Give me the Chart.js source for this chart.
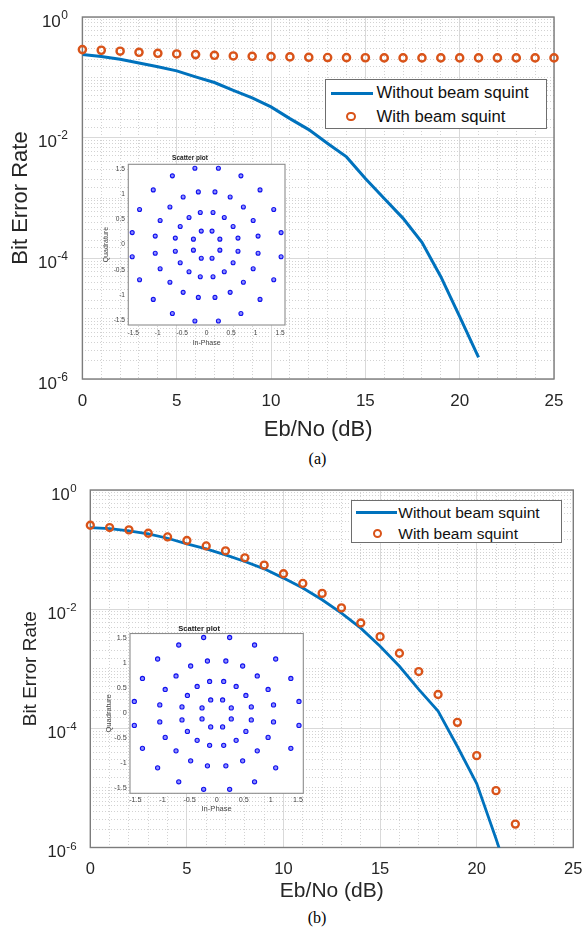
<!DOCTYPE html>
<html>
<head>
<meta charset="utf-8">
<script src="https://cdn.jsdelivr.net/npm/chart.js@4.4.1/dist/chart.umd.min.js"></script>
<style>
  html, body { margin: 0; padding: 0; background: #fff; }
  #page { position: relative; width: 585px; height: 930px; overflow: hidden; font-family: 'Liberation Sans', Arial, sans-serif; }
  canvas { position: absolute; }
  .legend-box { position: absolute; background: #fff; border: 1px solid #6e6e6e; box-sizing: border-box; }
  .legend-el { position: absolute; box-sizing: border-box; }
  .legend-text { position: absolute; white-space: nowrap; color: #111; }
  .caption { position: absolute; font-family: 'Liberation Serif', 'Times New Roman', serif; font-size: 16px; color: #000; transform: translate(-50%, -50%); }
</style>
</head>
<body>
<div id="page">
  <canvas id="berA" width="585" height="445" style="left:0;top:0"></canvas>
  <canvas id="insetA" width="200" height="205" style="left:95px;top:148px"></canvas>
  <div class="caption" style="left:317.5px;top:459px">(a)</div>
  <canvas id="berB" width="585" height="445" style="left:0;top:462px"></canvas>
  <canvas id="insetB" width="220" height="197" style="left:95px;top:619px"></canvas>
  <div class="caption" style="left:317px;top:918px">(b)</div>
</div>
<script>
// Eb/No axis (dB)
const ebno = [0, 1, 2, 3, 4, 5, 6, 7, 8, 9, 10, 11, 12, 13, 14, 15, 16, 17, 18, 19, 20, 21, 22, 23, 24, 25];

// (a) BER curves
const berA_noSquint = [0.238, 0.222, 0.2, 0.173, 0.15, 0.128, 0.102, 0.082, 0.061, 0.0456, 0.0324,
  0.0207, 0.0136, 0.008, 0.0048, 0.0021, 0.00098, 0.00046, 0.000184, 0.0000496, 0.0000108, 0.00000229];
const berA_squint = [0.288, 0.281, 0.271, 0.26, 0.25, 0.244, 0.238, 0.232, 0.226, 0.223, 0.22, 0.218, 0.215,
  0.213, 0.212, 0.211, 0.21, 0.21, 0.21, 0.21, 0.21, 0.21, 0.21, 0.21, 0.21, 0.21];

// (b) BER curves
const berB_noSquint = [0.234, 0.225, 0.206, 0.183, 0.155, 0.125, 0.103, 0.0815, 0.063, 0.0475, 0.0332,
  0.0226, 0.0144, 0.0086, 0.0048, 0.00238, 0.0011, 0.00045, 0.000195, 0.0000495, 0.0000118, 0.0000014, 0.00000015];
const berB_squint = [0.256, 0.234, 0.214, 0.188, 0.163, 0.142, 0.115, 0.0953, 0.0727, 0.0548, 0.0393,
  0.027, 0.0184, 0.0105, 0.00586, 0.00346, 0.00182, 0.000898, 0.00037, 0.000126, 0.0000348, 0.000009, 0.00000247];

const seriesLabels = ['Without beam squint', 'With beam squint'];
const xTickValues = [0, 5, 10, 15, 20, 25];
const yTickValues = [1, 1e-2, 1e-4, 1e-6];
const yTickBase = '10';
const yTickExponents = ['0', '-2', '-4', '-6'];

// constellation shown in the insets (in-phase / quadrature)
const constI = [
  0.27, 0.11, -0.11, -0.27, -0.27, -0.11, 0.11, 0.27,
  0.64, 0.54, 0.36, 0.13, -0.13, -0.36, -0.54, -0.64, -0.64, -0.54, -0.36, -0.13, 0.13, 0.36, 0.54, 0.64,
  1.05, 0.95, 0.75, 0.48, 0.17, -0.17, -0.48, -0.75, -0.95, -1.05, -1.05, -0.95, -0.75, -0.48, -0.17, 0.17, 0.48, 0.75, 0.95, 1.05,
  1.52, 1.37, 1.09, 0.70, 0.24, -0.24, -0.70, -1.09, -1.37, -1.52, -1.52, -1.37, -1.09, -0.70, -0.24, 0.24, 0.70, 1.09, 1.37, 1.52
];
const constQ = [
  0.11, 0.27, 0.27, 0.11, -0.11, -0.27, -0.27, -0.11,
  0.13, 0.36, 0.54, 0.64, 0.64, 0.54, 0.36, 0.13, -0.13, -0.36, -0.54, -0.64, -0.64, -0.54, -0.36, -0.13,
  0.17, 0.48, 0.75, 0.95, 1.05, 1.05, 0.95, 0.75, 0.48, 0.17, -0.17, -0.48, -0.75, -0.95, -1.05, -1.05, -0.95, -0.75, -0.48, -0.17,
  0.24, 0.70, 1.09, 1.37, 1.52, 1.52, 1.37, 1.09, 0.70, 0.24, -0.24, -0.70, -1.09, -1.37, -1.52, -1.52, -1.37, -1.09, -0.70, -0.24
];
const insetTickValues = [-1.5, -1, -0.5, 0, 0.5, 1, 1.5];
const insetTickLabels = ['-1.5', '-1', '-0.5', '0', '0.5', '1', '1.5'];

const BLUE = '#0072BD';
const ORANGE = '#D95319';
const TXT = '#262626';
const MAJOR = '#d9d9d9';
const MINOR = '#d2d2d2';
const FONT = "'Liberation Sans', Arial, sans-serif";

Chart.defaults.font.family = FONT;

// axes box + optional white fill of the plot area
Chart.register({
  id: 'frame',
  defaults: { color: '#7c7c7c', width: 1.4, fill: null },
  beforeDraw(chart, args, opts) {
    if (!opts.fill) return;
    const a = chart.chartArea, ctx = chart.ctx;
    ctx.save();
    ctx.fillStyle = opts.fill;
    ctx.fillRect(a.left, a.top, a.right - a.left, a.bottom - a.top);
    ctx.restore();
  },
  beforeDatasetsDraw(chart, args, opts) {
    const a = chart.chartArea, ctx = chart.ctx;
    ctx.save();
    ctx.strokeStyle = opts.color;
    ctx.lineWidth = opts.width;
    ctx.strokeRect(a.left, a.top, a.right - a.left, a.bottom - a.top);
    ctx.restore();
  }
});

// 10^k labels of the log axis, drawn with a raised exponent at the scale's own tick positions
Chart.register({
  id: 'powerTicks',
  defaults: { enabled: false },
  afterDraw(chart, args, o) {
    if (!o.enabled) return;
    const ctx = chart.ctx, sc = chart.scales.y;
    ctx.save();
    ctx.fillStyle = TXT;
    ctx.textAlign = 'right';
    ctx.textBaseline = 'alphabetic';
    yTickValues.forEach((v, i) => {
      const y = sc.getPixelForValue(v);
      ctx.font = o.expSize + 'px ' + FONT;
      const ew = ctx.measureText(yTickExponents[i]).width;
      ctx.fillText(yTickExponents[i], o.right, y + o.expOff);
      ctx.font = o.baseSize + 'px ' + FONT;
      ctx.fillText(yTickBase, o.right - ew - 0.5, y + o.baseOff);
    });
    ctx.restore();
  }
});

const sameLog = (a, b) => Math.abs(Math.log10(a) - Math.log10(b)) < 1e-9;
const isMajorY = c => c.tick && yTickValues.some(t => sameLog(c.tick.value, t));
const isMajorX = c => c.tick && xTickValues.includes(c.tick.value);

function berChart(id, noSquint, squint, s) {
  return new Chart(document.getElementById(id), {
    type: 'line',
    data: {
      datasets: [{
        label: seriesLabels[0],
        data: noSquint.map((v, i) => ({ x: ebno[i], y: v })),
        borderColor: BLUE,
        borderWidth: s.lineWidth,
        pointRadius: 0,
        tension: 0,
        fill: false,
        showLine: true,
        order: 2,
        clip: 0
      }, {
        label: seriesLabels[1],
        data: squint.map((v, i) => ({ x: ebno[i], y: v })),
        borderColor: ORANGE,
        backgroundColor: 'rgba(0,0,0,0)',
        borderWidth: s.markBorder,
        pointRadius: s.markRadius,
        showLine: false,
        order: 1,
        clip: false
      }]
    },
    options: {
      responsive: false,
      animation: false,
      layout: { padding: s.pad },
      plugins: {
        legend: { display: false },
        tooltip: { enabled: false },
        powerTicks: { enabled: true, right: s.labelRight, baseSize: s.tickFont, expSize: s.expFont, baseOff: s.baseOff, expOff: s.expOff }
      },
      scales: {
        x: {
          type: 'linear', min: 0, max: 25,
          afterFit: sc => { sc.height = s.xH; sc.paddingLeft = 0; sc.paddingRight = 0; },
          ticks: {
            stepSize: 1, maxTicksLimit: 100, autoSkip: false, maxRotation: 0,
            padding: s.xTickPad, color: TXT, font: { size: s.tickFont },
            callback: v => xTickValues.includes(v) ? String(v) : ''
          },
          grid: { color: c => isMajorX(c) ? MAJOR : MINOR, lineWidth: 1, drawTicks: false },
          border: { display: false, dash: c => isMajorX(c) ? [] : [1, 2] },
          title: { display: true, text: 'Eb/No (dB)', color: TXT, font: { size: s.xTitleFont }, padding: { top: 0, bottom: s.xTitlePad } }
        },
        y: {
          type: 'logarithmic', min: 1e-6, max: 1,
          afterFit: sc => { sc.width = s.yW; sc.paddingTop = 0; sc.paddingBottom = 0; },
          ticks: { display: false, autoSkip: false },
          grid: { color: c => isMajorY(c) ? MAJOR : MINOR, lineWidth: 1, drawTicks: false },
          border: { display: false, dash: c => isMajorY(c) ? [] : [1, 2] },
          title: { display: true, text: 'Bit Error Rate', color: TXT, font: { size: s.yTitleFont }, padding: { top: s.yTitlePad, bottom: 0 } }
        }
      }
    }
  });
}

function insetChart(id, s) {
  const axis = (title, fitFn, tickPad, titlePad) => ({
    type: 'linear', min: -1.6, max: 1.6,
    afterFit: fitFn,
    ticks: {
      stepSize: 0.5, includeBounds: false, autoSkip: false, maxRotation: 0,
      padding: tickPad, color: '#444', font: { size: s.tickFont },
      callback: v => {
        const k = insetTickValues.findIndex(t => Math.abs(t - v) < 1e-9);
        return k >= 0 ? insetTickLabels[k] : '';
      }
    },
    grid: { display: false, drawTicks: false },
    border: { display: false },
    title: { display: true, text: title, color: '#444', font: { size: s.axisFont }, padding: titlePad }
  });
  return new Chart(document.getElementById(id), {
    type: 'scatter',
    data: {
      datasets: [{
        data: constI.map((v, i) => ({ x: v, y: constQ[i] })),
        pointRadius: s.dot,
        borderWidth: 1.1,
        borderColor: '#1010ee',
        backgroundColor: '#8c8cff'
      }]
    },
    options: {
      responsive: false,
      animation: false,
      layout: { padding: s.pad },
      plugins: {
        legend: { display: false },
        tooltip: { enabled: false },
        title: { display: true, text: 'Scatter plot', color: '#222', font: { size: s.titleFont, weight: 'bold' }, padding: s.titlePad },
        frame: { color: '#8c8c8c', width: 1.1, fill: '#fff' }
      },
      scales: {
        x: axis('In-Phase', sc => { sc.height = s.xH; sc.paddingLeft = 0; sc.paddingRight = 0; }, s.xTickPad, { top: 0, bottom: s.xTitlePad }),
        y: axis('Quadrature', sc => { sc.width = s.yW; sc.paddingTop = 0; sc.paddingBottom = 0; }, s.yTickPad, { top: s.yTitlePad, bottom: 0 })
      }
    }
  });
}

// legend drawn as html over the plot, built from the chart's datasets
function htmlLegend(chart, L) {
  const page = document.getElementById('page');
  const add = (cls, st) => {
    const d = document.createElement('div');
    d.className = cls;
    Object.assign(d.style, st);
    page.appendChild(d);
    return d;
  };
  add('legend-box', { left: L.left + 'px', top: L.top + 'px', width: L.width + 'px', height: L.height + 'px' });
  chart.data.datasets.forEach((ds, i) => {
    const cy = L.rows[i];
    if (ds.showLine) {
      add('legend-el', { left: L.lineFrom + 'px', top: (cy - L.lineW / 2) + 'px', width: (L.lineTo - L.lineFrom) + 'px', height: L.lineW + 'px', background: ds.borderColor });
    } else {
      const r = ds.pointRadius + ds.borderWidth / 2;
      add('legend-el', { left: (L.markX - r) + 'px', top: (cy - r) + 'px', width: 2 * r + 'px', height: 2 * r + 'px', border: ds.borderWidth + 'px solid ' + ds.borderColor, borderRadius: '50%' });
    }
    const lh = Math.round(L.font * 1.2);
    const t = add('legend-text', { left: L.textX + 'px', top: (cy - lh / 2) + 'px', fontSize: L.font + 'px', lineHeight: lh + 'px' });
    t.textContent = ds.label;
  });
}

const chartA = berChart('berA', berA_noSquint, berA_squint, {
  pad: { left: 0, top: 17, right: 31, bottom: 2 }, yW: 82.4, xH: 64,
  tickFont: 17, expFont: 12, labelRight: 68, baseOff: 9.5, expOff: 1.5,
  xTickPad: 12,
  xTitleFont: 22, xTitlePad: 0, yTitleFont: 22, yTitlePad: 8,
  lineWidth: 3, markRadius: 3.6, markBorder: 2.4
});
htmlLegend(chartA, { left: 325, top: 79.3, width: 221.5, height: 49.7, rows: [93.3, 116.7],
  lineFrom: 330.6, lineTo: 373.5, lineW: 3, markX: 351, textX: 376.5, font: 16.7 });

const chartB = berChart('berB', berB_noSquint, berB_squint, {
  pad: { left: 0, top: 28, right: 11.7, bottom: 2.7 }, yW: 90.3, xH: 56.8,
  tickFont: 16.5, expFont: 11.5, labelRight: 76.6, baseOff: 9.5, expOff: 2,
  xTickPad: 12,
  xTitleFont: 21, xTitlePad: 0, yTitleFont: 19, yTitlePad: 19.8,
  lineWidth: 2.8, markRadius: 3.5, markBorder: 2.3
});
htmlLegend(chartB, { left: 351, top: 500, width: 211.3, height: 43.3, rows: [512.5, 533.3],
  lineFrom: 356, lineTo: 396.7, lineW: 2.6, markX: 377.7, textX: 398.3, font: 15.5 });

insetChart('insetA', {
  pad: { left: 0, top: 0, right: 10, bottom: 0 }, yW: 33.3, xH: 28,
  tickFont: 6.6, axisFont: 7, titleFont: 6.5, titlePad: { top: 6, bottom: 2.5 },
  xTickPad: 4.5, yTickPad: 3.3, xTitlePad: 6, yTitlePad: 6.8, dot: 2
});
insetChart('insetB', {
  pad: { left: 0, top: 0, right: 11.7, bottom: 0 }, yW: 35, xH: 22.7,
  tickFont: 7.2, axisFont: 7.6, titleFont: 7.6, titlePad: { top: 5.4, bottom: 0 },
  xTickPad: 2.7, yTickPad: 3.3, xTitlePad: 2.8, yTitlePad: 9.8, dot: 2.1
});
</script>
</body>
</html>
